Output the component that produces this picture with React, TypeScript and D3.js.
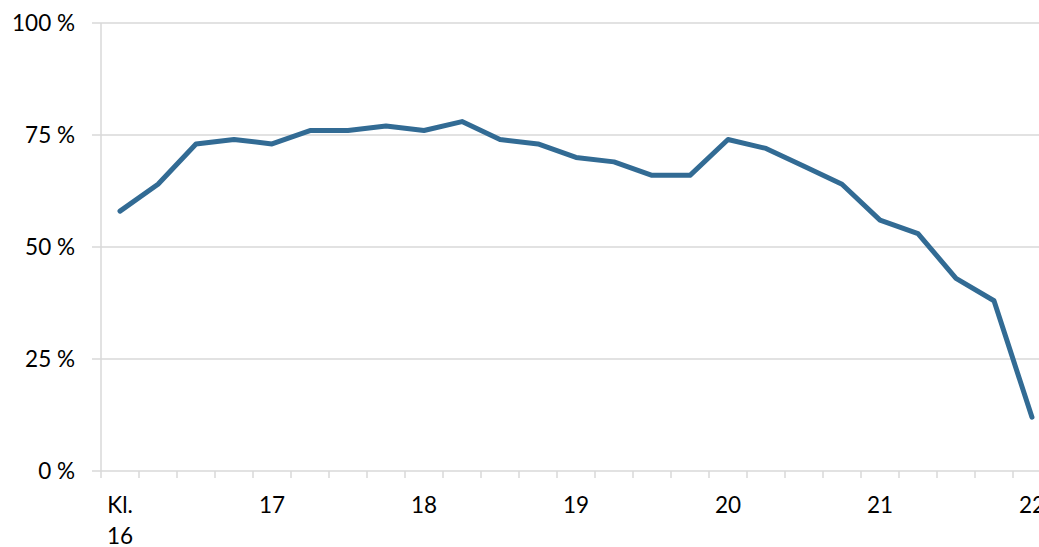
import { useEffect } from "react";
import * as d3 from "d3";

// share of respondents per quarter hour, 16:00 - 22:00
const times = [
  "16:00", "16:15", "16:30", "16:45", "17:00", "17:15", "17:30", "17:45",
  "18:00", "18:15", "18:30", "18:45", "19:00", "19:15", "19:30", "19:45",
  "20:00", "20:15", "20:30", "20:45", "21:00", "21:15", "21:30", "21:45", "22:00",
];
const values = [
  58, 64, 73, 74, 73, 76, 76, 77, 76, 78, 74, 73, 70, 69, 66, 66,
  74, 72, 68, 64, 56, 53, 43, 38, 12,
];
const hourLabels = ["Kl. 16", "17", "18", "19", "20", "21", "22"];
const yTicks = [0, 25, 50, 75, 100];

const width = 1039;
const height = 547;
const margin = { top: 23, left: 101, bottom: 76 };
const font = "Lato, 'Open Sans', sans-serif";

export default function App() {
  useEffect(() => {
    document.body.style.margin = "0";
  }, []);

  const x = d3
    .scaleBand<string>()
    .domain(times)
    .range([margin.left, margin.left + 38 * times.length])
    .padding(0);
  const y = d3
    .scaleLinear()
    .domain([0, 100])
    .range([height - margin.bottom, margin.top]);

  const line = d3
    .line<number>()
    .x((_, i) => x(times[i])! + x.bandwidth() / 2)
    .y((d) => y(d));

  const grid = "#d9d9d9";
  const y0 = y(0);

  return (
    <svg width={width} height={height} style={{ display: "block", background: "#fff" }}>
      {yTicks.map((t) => (
        <g key={t}>
          <line x1={margin.left - 9} x2={width} y1={y(t)} y2={y(t)} stroke={grid} strokeWidth={1.5} />
          <text
            x={75}
            y={y(t) + 8}
            textAnchor="end"
            fontFamily={font}
            fontSize={22.5}
            fill="#000"
          >
            {t} %
          </text>
        </g>
      ))}
      <line x1={margin.left} x2={margin.left} y1={y(100)} y2={y0 + 7} stroke={grid} strokeWidth={1.5} />
      {times.map((t) => (
        <line
          key={t}
          x1={x(t)! + x.bandwidth()}
          x2={x(t)! + x.bandwidth()}
          y1={y0}
          y2={y0 + 7}
          stroke={grid}
          strokeWidth={1.5}
        />
      ))}
      {hourLabels.map((lab, i) => {
        const cx = x(times[i * 4])! + x.bandwidth() / 2;
        const parts = lab.split(" ");
        return (
          <text key={lab} x={cx} y={513} textAnchor="middle" fontFamily={font} fontSize={22.5} fill="#000">
            {parts.map((p, j) => (
              <tspan key={j} x={cx} dy={j === 0 ? 0 : 31}>
                {p}
              </tspan>
            ))}
          </text>
        );
      })}
      <path
        d={line(values) ?? ""}
        fill="none"
        stroke="#326b94"
        strokeWidth={5}
        strokeLinejoin="round"
        strokeLinecap="round"
      />
    </svg>
  );
}
